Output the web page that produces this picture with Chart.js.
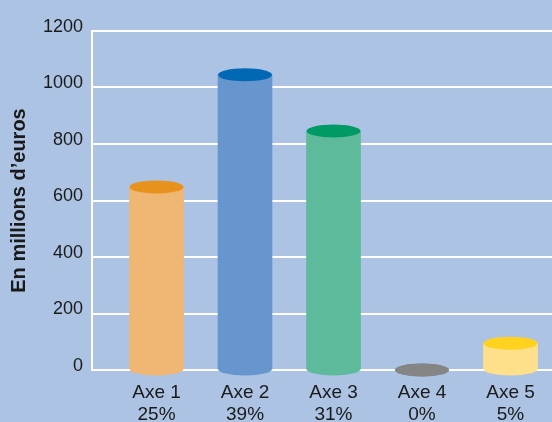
<!DOCTYPE html>
<html>
<head>
<meta charset="utf-8">
<script src="https://cdn.jsdelivr.net/npm/chart.js@4"></script>
<style>
body{margin:0;background:#adc3e3;}
</style>
</head>
<body>
<canvas id="chart" width="552" height="422"></canvas>
<script>
var categories = ['Axe 1', 'Axe 2', 'Axe 3', 'Axe 4', 'Axe 5'];
var shares = ['25%', '39%', '31%', '0%', '5%'];
var amounts = [648, 1045, 846, 0, 95];
var bodyColors = ['#f0b674', '#6795cd', '#5dba9a', '#858585', '#ffe08a'];
var topColors = ['#e8921e', '#0068b4', '#009b65', '#858585', '#ffd21f'];

// draws the round top and bottom of each bar so it looks like a cylinder
var cylinders = {
    id: 'cylinders',
    afterDatasetsDraw: function(chart) {
        var ctx = chart.ctx;
        chart.getDatasetMeta(0).data.forEach(function(bar, i) {
            var rx = bar.width / 2, ry = 6.5;
            ctx.save();
            ctx.fillStyle = bodyColors[i];
            ctx.beginPath();
            ctx.ellipse(bar.x, bar.base, rx, ry, 0, 0, Math.PI * 2);
            ctx.fill();
            ctx.fillStyle = topColors[i];
            ctx.beginPath();
            ctx.ellipse(bar.x, bar.y, rx, ry, 0, 0, Math.PI * 2);
            ctx.fill();
            ctx.restore();
        });
    }
};

Chart.defaults.font.family = '"Liberation Sans", Arial, sans-serif';
Chart.defaults.color = '#1a1a1a';

var chart = new Chart(document.getElementById('chart').getContext('2d'), {
    type: 'bar',
    data: {
        datasets: [{
            data: amounts.map(function(v, i) { return {x: i, y: v}; }),
            backgroundColor: bodyColors,
            borderWidth: 0,
            barThickness: 54
        }]
    },
    options: {
        responsive: false,
        devicePixelRatio: 1,
        animation: false,
        layout: {padding: {top: 31, right: 0, left: 0, bottom: 0}},
        plugins: {legend: {display: false}, tooltip: {enabled: false}},
        scales: {
            x: {
                type: 'linear',
                offset: false,
                min: -0.729,
                max: 4.469,
                afterBuildTicks: function(axis) {
                    axis.ticks = categories.map(function(c, i) { return {value: i}; });
                },
                afterFit: function(axis) { axis.height = 52; },
                grid: {display: false},
                border: {color: '#ffffff', width: 2},
                ticks: {
                    autoSkip: false,
                    maxRotation: 0,
                    padding: 4,
                    font: {size: 19, lineHeight: 1.16},
                    callback: function(v) { return [categories[v], shares[v]]; }
                }
            },
            y: {
                min: 0,
                max: 1200,
                afterFit: function(axis) { axis.width = 92; },
                grid: {color: '#ffffff', lineWidth: 2, drawTicks: false},
                border: {color: '#ffffff', width: 2},
                ticks: {
                    stepSize: 200,
                    padding: 9,
                    labelOffset: -4,
                    font: {size: 18},
                    callback: function(v) { return String(v); }
                },
                title: {
                    display: true,
                    text: 'En millions d’euros',
                    font: {size: 20, weight: 'bold'},
                    padding: {top: 7, bottom: 0}
                }
            }
        }
    },
    plugins: [cylinders]
});
</script>
</body>
</html>
